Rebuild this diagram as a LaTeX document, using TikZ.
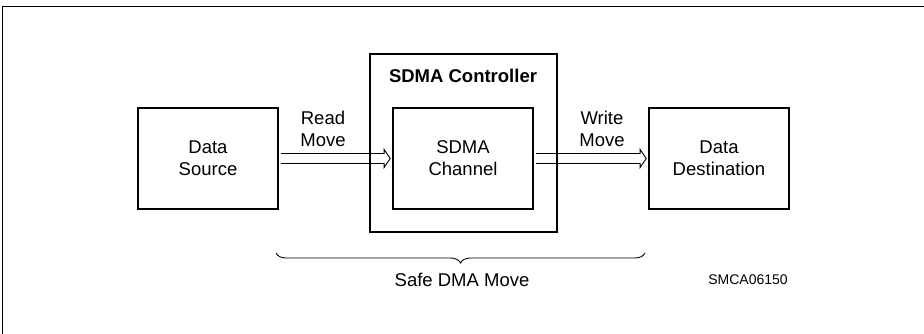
\documentclass[tikz,border=0pt]{standalone}
\usepackage{fontspec}
\setmainfont{Liberation Sans}
\usetikzlibrary{calc,decorations.pathreplacing}
\begin{document}
\begin{tikzpicture}[x=1pt,y=-1pt,
  box/.style={draw,line width=2.7pt,minimum width=140pt,minimum height=101pt,inner sep=0pt,align=center,font=\fontsize{18.5}{22}\selectfont},
  lbl/.style={align=center,font=\fontsize{18.5}{22}\selectfont,inner sep=0pt},
  hollow/.style={draw,line width=0.9pt,line join=miter}]
\useasboundingbox (0,0) rectangle (924,334);
\draw[line width=1.1pt] (2.3,340) -- (2.3,6.3) -- (930,6.3);
% arrows
\node[box] (src) at (208,158.5) {Data\\Source};
\node[box] (chan) at (463,158.5) {SDMA\\Channel};
\node[box] (dst) at (719,158.5) {Data\\Destination};
\draw[hollow] ($(src.east)+(1.4,-5)$) -- ($(chan.west)+(-7.5,-5)$) -- ($(chan.west)+(-7.5,-9)$) -- ($(chan.west)+(-1.4,0)$) -- ($(chan.west)+(-7.5,9)$) -- ($(chan.west)+(-7.5,5)$) -- ($(src.east)+(1.4,5)$);
\draw[hollow] ($(chan.east)+(1.4,-5)$) -- ($(dst.west)+(-7.5,-5)$) -- ($(dst.west)+(-7.5,-9)$) -- ($(dst.west)+(-1.4,0)$) -- ($(dst.west)+(-7.5,9)$) -- ($(dst.west)+(-7.5,5)$) -- ($(chan.east)+(1.4,5)$);
\node[draw,line width=2.7pt,minimum width=187pt,minimum height=178pt,inner sep=0pt] (ctrl) at (463.5,143) {};
\node[lbl,font=\fontsize{18.5}{22}\selectfont\bfseries] (ctrltitle) at (463,76) {SDMA Controller};
\node[lbl] (read) at (323,128.5) {Read\\Move};
\node[lbl] (write) at (602,128.5) {Write\\Move};
\coordinate (bl) at (276,253);
\coordinate (br) at (645,253);
\draw[line width=0.9pt,decorate,decoration={brace,mirror,amplitude=10pt}] (bl) -- (br);
\node[lbl] (safe) at (462,280) {Safe DMA Move};
\node[lbl,font=\fontsize{14}{16}\selectfont] (code) at (748,280) {SMCA06150};
\end{tikzpicture}
\end{document}
